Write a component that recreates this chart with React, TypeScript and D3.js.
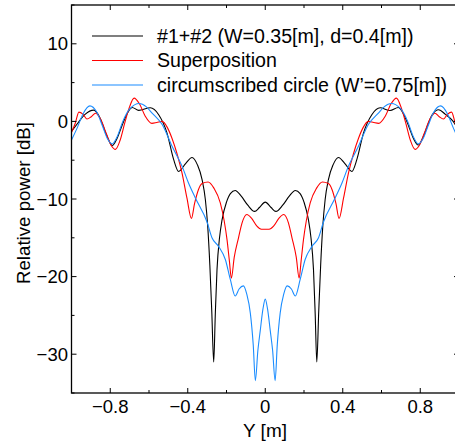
import React from "react";
import * as d3 from "d3";

// ---- data (Y [m], relative power [dB]) ----
const blackSeries: [number, number][] = [
  [-1.0, -1.3], [-0.97, -0.3], [-0.93, 0.9], [-0.885, 1.45], [-0.86, 0.8], [-0.815, -2.0],
  [-0.79, -3.1], [-0.765, -2.2], [-0.74, -0.6], [-0.715, 0.9], [-0.687, 1.8], [-0.653, 1.42],
  [-0.593, 1.75], [-0.55, 0.86], [-0.507, -1.5], [-0.473, -4.9], [-0.447, -6.45], [-0.41, -5.4],
  [-0.378, -4.65], [-0.35, -5.6], [-0.326, -7.5], [-0.309, -10.1], [-0.297, -13.5], [-0.286, -18.5],
  [-0.276, -24.5], [-0.266, -31], [-0.258, -25], [-0.249, -19.1], [-0.236, -15], [-0.223, -12.7],
  [-0.2, -10.4], [-0.18, -9.3], [-0.155, -8.9], [-0.125, -9.6], [-0.09, -10.8], [-0.055, -11.6],
  [-0.03, -11.1], [0, -10.4],
  [0.03, -11.1], [0.055, -11.6], [0.09, -10.8], [0.125, -9.6], [0.155, -8.9], [0.18, -9.3],
  [0.2, -10.4], [0.223, -12.7], [0.236, -15], [0.249, -19.1], [0.258, -25], [0.266, -31],
  [0.276, -24.5], [0.286, -18.5], [0.297, -13.5], [0.309, -10.1], [0.326, -7.5], [0.35, -5.6],
  [0.378, -4.65], [0.41, -5.4], [0.447, -6.45], [0.473, -4.9], [0.507, -1.5], [0.55, 0.86],
  [0.593, 1.75], [0.644, 1.4], [0.687, 1.8], [0.715, 0.9], [0.74, -0.6], [0.765, -2.2],
  [0.79, -3.05], [0.815, -2.0], [0.86, 0.8], [0.895, 1.5], [0.93, 0.9], [0.97, 0.0], [1.0, -1.3],
];

const redSeries: [number, number][] = [
  [-1.0, -1.4], [-0.98, -0.2], [-0.962, 1.2], [-0.94, 0.9], [-0.92, 0.3], [-0.898, 0.6],
  [-0.876, 1.05], [-0.85, 0.3], [-0.82, -1.6], [-0.795, -3.1], [-0.773, -3.6], [-0.75, -2.5],
  [-0.725, -0.2], [-0.7, 1.9], [-0.677, 3.0], [-0.65, 2.3], [-0.62, 0.7], [-0.585, -0.25],
  [-0.56, -0.15], [-0.532, 0.0], [-0.505, -0.8], [-0.481, -2.2], [-0.455, -4.2], [-0.43, -6.6],
  [-0.404, -9.9], [-0.381, -12.5], [-0.365, -10.6], [-0.345, -8.8], [-0.326, -8.0], [-0.295, -7.8],
  [-0.265, -8.6], [-0.232, -10.5], [-0.212, -12.8], [-0.197, -15.3], [-0.185, -18.0], [-0.175, -20.2],
  [-0.16, -17.5], [-0.138, -15.0], [-0.12, -13.1], [-0.095, -12.0], [-0.07, -12.5], [-0.043, -13.5],
  [-0.02, -13.9], [0, -13.9],
  [0.02, -13.9], [0.043, -13.5], [0.07, -12.5], [0.095, -12.0], [0.12, -13.1], [0.138, -15.0],
  [0.16, -17.5], [0.175, -20.2], [0.185, -18.0], [0.197, -15.3], [0.212, -12.8], [0.232, -10.5],
  [0.265, -8.6], [0.295, -7.8], [0.326, -8.0], [0.345, -8.8], [0.365, -10.6], [0.381, -12.5],
  [0.404, -9.9], [0.43, -6.6], [0.455, -4.2], [0.481, -2.2], [0.505, -0.8], [0.532, 0.0],
  [0.56, -0.15], [0.585, -0.25], [0.62, 0.7], [0.65, 2.3], [0.677, 3.0], [0.7, 1.9],
  [0.725, -0.2], [0.75, -2.5], [0.773, -3.6], [0.795, -3.1], [0.82, -1.6], [0.85, 0.3],
  [0.876, 1.05], [0.898, 0.6], [0.92, 0.3], [0.94, 0.9], [0.962, 1.2], [0.98, -0.2], [1.0, -1.4],
];

const blueSeries: [number, number][] = [
  [-1.0, -2.4], [-0.97, -0.8], [-0.94, 1.0], [-0.905, 2.0], [-0.87, 1.2], [-0.84, -0.6],
  [-0.815, -2.2], [-0.79, -2.9], [-0.765, -2.0], [-0.735, 0.0], [-0.7, 1.6], [-0.65, 2.3],
  [-0.615, 1.9], [-0.584, 1.08], [-0.532, -0.4], [-0.481, -3.2], [-0.429, -5.8], [-0.395, -8.0],
  [-0.36, -9.9], [-0.3, -13.0], [-0.275, -15.0], [-0.241, -16.1], [-0.206, -17.8], [-0.18, -20.4],
  [-0.155, -22.5], [-0.135, -21.6], [-0.113, -21.2], [-0.095, -22.3], [-0.077, -24.7], [-0.062, -28.8],
  [-0.051, -33.4], [-0.038, -29.5], [-0.026, -27.0], [-0.012, -24.2], [0, -22.9],
  [0.012, -24.2], [0.026, -27.0], [0.038, -29.5], [0.051, -33.4], [0.062, -28.8], [0.077, -24.7],
  [0.095, -22.3], [0.113, -21.2], [0.135, -21.6], [0.155, -22.5], [0.18, -20.4], [0.206, -17.8],
  [0.241, -16.1], [0.275, -15.0], [0.3, -13.0], [0.36, -9.9], [0.395, -8.0], [0.429, -5.8],
  [0.481, -3.2], [0.532, -0.4], [0.584, 1.08], [0.615, 1.9], [0.65, 2.3], [0.7, 1.6],
  [0.735, 0.0], [0.765, -2.0], [0.79, -2.9], [0.815, -2.2], [0.84, -0.6], [0.87, 1.2],
  [0.905, 2.0], [0.94, 1.0], [0.97, -0.8], [1.0, -2.4],
];

const seriesNames = [
  "#1+#2 (W=0.35[m], d=0.4[m])",
  "Superposition",
  "circumscribed circle (W\u2019=0.75[m])",
];
const seriesColors = ["#000000", "#ff0000", "#1a8cff"];

const xMajorTicks = [-0.8, -0.4, 0, 0.4, 0.8];
const xMinorTicks = [-1, -0.6, -0.2, 0.2, 0.6, 1];
const yMajorTicks = [-30, -20, -10, 0, 10];
const yMinorTicks = [-35, -25, -15, -5, 5, 15];

const fmtX = (v: number) => (v === 0 ? "0" : (v < 0 ? "\u2212" : "") + Math.abs(v).toFixed(1));
const fmtY = (v: number) => (v < 0 ? "\u2212" : "") + Math.abs(v).toString();

export default function App() {
  const W = 455, H = 445;
  const L = 71.5, R = 459, T = 5, B = 393;
  const x = d3.scaleLinear().domain([-1, 1]).range([L, R]);
  const y = d3.scaleLinear().domain([-35, 15]).range([B, T]);
  const line = d3
    .line<[number, number]>()
    .x((d) => x(d[0]))
    .y((d) => y(d[1]))
    .curve(d3.curveMonotoneX);
  const all = [blackSeries, redSeries, blueSeries];
  const font = "'Liberation Sans', Arial, Helvetica, sans-serif";
  const maj = 5, mnr = 3;

  return (
    <svg width={W} height={H} style={{ position: "absolute", left: 0, top: 0, background: "#fff" }}
      fontFamily={font}>
      <defs>
        <clipPath id="plotclip">
          <rect x={L} y={T} width={R - L} height={B - T} />
        </clipPath>
      </defs>
      <rect x={0} y={0} width={W} height={H} fill="#fff" />
      <g clipPath="url(#plotclip)">
        {all.map((s, i) => (
          <path key={i} d={line(s) || ""} fill="none" stroke={seriesColors[i]} strokeWidth={1.1}
            strokeLinejoin="round" />
        ))}
      </g>
      {/* frame */}
      <rect x={L} y={T} width={R - L} height={B - T} fill="none" stroke="#000" strokeWidth={1.3} />
      {/* x ticks */}
      {xMajorTicks.map((v) => (
        <g key={"xM" + v}>
          <line x1={x(v)} x2={x(v)} y1={B} y2={B - maj} stroke="#000" strokeWidth={1} />
          <line x1={x(v)} x2={x(v)} y1={T} y2={T + maj} stroke="#000" strokeWidth={1} />
          <text x={x(v)} y={413} textAnchor="middle" fontSize={18.5} fill="#000">{fmtX(v)}</text>
        </g>
      ))}
      {xMinorTicks.map((v) => (
        <g key={"xm" + v}>
          <line x1={x(v)} x2={x(v)} y1={B} y2={B - mnr} stroke="#000" strokeWidth={1} />
          <line x1={x(v)} x2={x(v)} y1={T} y2={T + mnr} stroke="#000" strokeWidth={1} />
        </g>
      ))}
      {yMajorTicks.map((v) => (
        <g key={"yM" + v}>
          <line x1={L} x2={L + maj} y1={y(v)} y2={y(v)} stroke="#000" strokeWidth={1} />
          <line x1={R} x2={R - maj} y1={y(v)} y2={y(v)} stroke="#000" strokeWidth={1} />
          <text x={68} y={y(v)} dy="0.36em" textAnchor="end" fontSize={18.5} fill="#000">{fmtY(v)}</text>
        </g>
      ))}
      {yMinorTicks.map((v) => (
        <g key={"ym" + v}>
          <line x1={L} x2={L + mnr} y1={y(v)} y2={y(v)} stroke="#000" strokeWidth={1} />
          <line x1={R} x2={R - mnr} y1={y(v)} y2={y(v)} stroke="#000" strokeWidth={1} />
        </g>
      ))}
      {/* axis labels */}
      <text x={265} y={437} textAnchor="middle" fontSize={19} fill="#000">Y [m]</text>
      <text transform="translate(30,203) rotate(-90)" textAnchor="middle" fontSize={18.7} fill="#000">
        Relative power [dB]
      </text>
      {/* legend */}
      {seriesNames.map((n, i) => {
        const ly = 36 + i * 24.5;
        return (
          <g key={"lg" + i}>
            <line x1={92} x2={143} y1={ly} y2={ly} stroke={seriesColors[i]} strokeWidth={1.1} />
            <text x={157} y={ly + 6.8} fontSize={19.6} fill="#000">{n}</text>
          </g>
        );
      })}
    </svg>
  );
}
